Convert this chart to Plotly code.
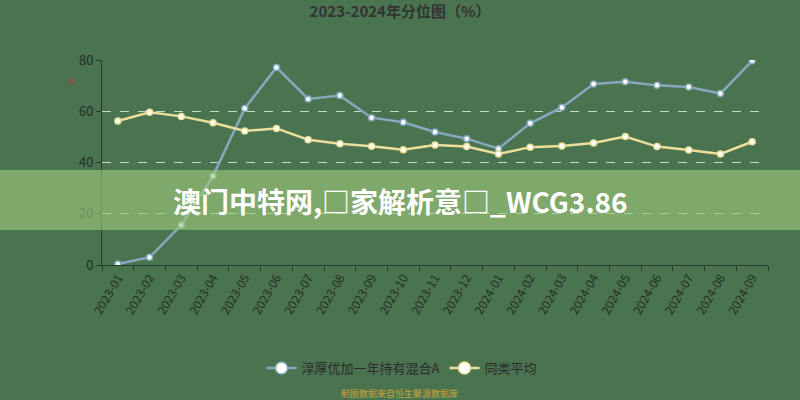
import plotly.graph_objects as go

months = ["2023-01","2023-02","2023-03","2023-04","2023-05","2023-06","2023-07","2023-08","2023-09","2023-10","2023-11","2023-12",
          "2024-01","2024-02","2024-03","2024-04","2024-05","2024-06","2024-07","2024-08","2024-09"]
fund_vals = [0.4, 3.0, 15.6, 34.7, 61.1, 77.1, 64.8, 66.1, 57.5, 55.7, 51.9, 49.3,
             45.4, 55.3, 61.5, 70.6, 71.5, 70.1, 69.5, 66.9, 79.7]
avg_vals = [56.2, 59.6, 58.0, 55.5, 52.3, 53.3, 48.9, 47.3, 46.3, 45.0, 46.8, 46.2,
            43.3, 46.0, 46.4, 47.6, 50.1, 46.2, 44.9, 43.3, 48.1]
y_ticks = [0, 20, 40, 60, 80]
series_names = ["淳厚优加一年持有混合A", "同类平均"]
series_colors = ["#86a9bf", "#ecdf9c"]

bg = "#4a7350"
L, R, T, B = 102, 32, 60, 135
PW, PH = 800 - L - R, 400 - T - B


def px(xp):
    return (xp - L) / PW


def py(yp):
    return (400 - B - yp) / PH


fig = go.Figure()
for name, vals, col in zip(series_names, [fund_vals, avg_vals], series_colors):
    fig.add_trace(go.Scatter(x=months, y=vals, name=name, mode="lines+markers", showlegend=False,
                             legendgroup=name,
                             line=dict(color=col, width=2.5),
                             marker=dict(size=6, color="#ffffff", line=dict(color=col, width=1.5))))
    # legend entry with larger symbol
    fig.add_trace(go.Scatter(x=[None], y=[None], name=name, mode="lines+markers", legendgroup=name,
                             line=dict(color=col, width=2.5),
                             marker=dict(size=12, color="#ffffff", line=dict(color=col, width=1.5))))

fig.update_layout(
    width=800, height=400,
    paper_bgcolor=bg, plot_bgcolor=bg,
    margin=dict(l=L, r=R, t=T, b=B),
    font=dict(family="Noto Sans CJK SC, Noto Sans, sans-serif", color="#2b3a2c"),
    title=dict(text="<b>2023-2024年分位图（%）</b>", x=0.5, xanchor="center", y=0.985, yanchor="top",
               font=dict(size=15, color="#333333")),
    showlegend=True,
    legend=dict(orientation="h", x=px(402), xanchor="center", y=py(368), yanchor="middle",
                font=dict(size=13, color="#2b2b2b"), bgcolor="rgba(0,0,0,0)"),
    xaxis=dict(type="category", range=[-0.5, len(months) - 0.5], tickangle=-60, showgrid=False,
               showline=True, linecolor="#2b3a2c",
               linewidth=1, ticks="outside", tickson="boundaries", ticklen=5, tickcolor="#2b3a2c",
               tickfont=dict(size=12, color="#243024"), zeroline=False),
    yaxis=dict(range=[0, 80], tickvals=y_ticks, showgrid=True, gridcolor="rgba(225,235,215,0.85)",
               griddash="dash", gridwidth=1, showline=True, linecolor="#2b3a2c", linewidth=1,
               ticks="outside", ticklen=5, tickcolor="#2b3a2c", tickfont=dict(size=13, color="#243024"),
               zeroline=False),
)

fig.add_annotation(text="%", xref="paper", yref="paper", x=px(71), y=py(81), xanchor="center",
                   yanchor="middle", showarrow=False, font=dict(size=9, color="#b23a2a"))
fig.add_annotation(text="制图数据来自恒生聚源数据库", xref="paper", yref="paper", x=px(399), y=py(393),
                   xanchor="center", yanchor="middle",
                   showarrow=False, font=dict(size=9, color="#c9a53a"))

# overlay band with headline
fig.add_shape(type="rect", xref="paper", yref="paper", x0=-0.2, x1=1.1, y0=py(230), y1=py(170),
              fillcolor="rgba(160,200,125,0.62)", line=dict(width=0), layer="above")
fig.add_annotation(text="<b>澳门中特网,□家解析意□_WCG3.86</b>", xref="paper", yref="paper",
                   x=px(400), y=py(201), xanchor="center", yanchor="middle", showarrow=False,
                   font=dict(size=28, color="#ffffff", family="Noto Sans CJK SC, Noto Sans, sans-serif"))

fig.write_html("out.html", config={"displayModeBar": False},
               post_script="document.body.style.margin='0';")
